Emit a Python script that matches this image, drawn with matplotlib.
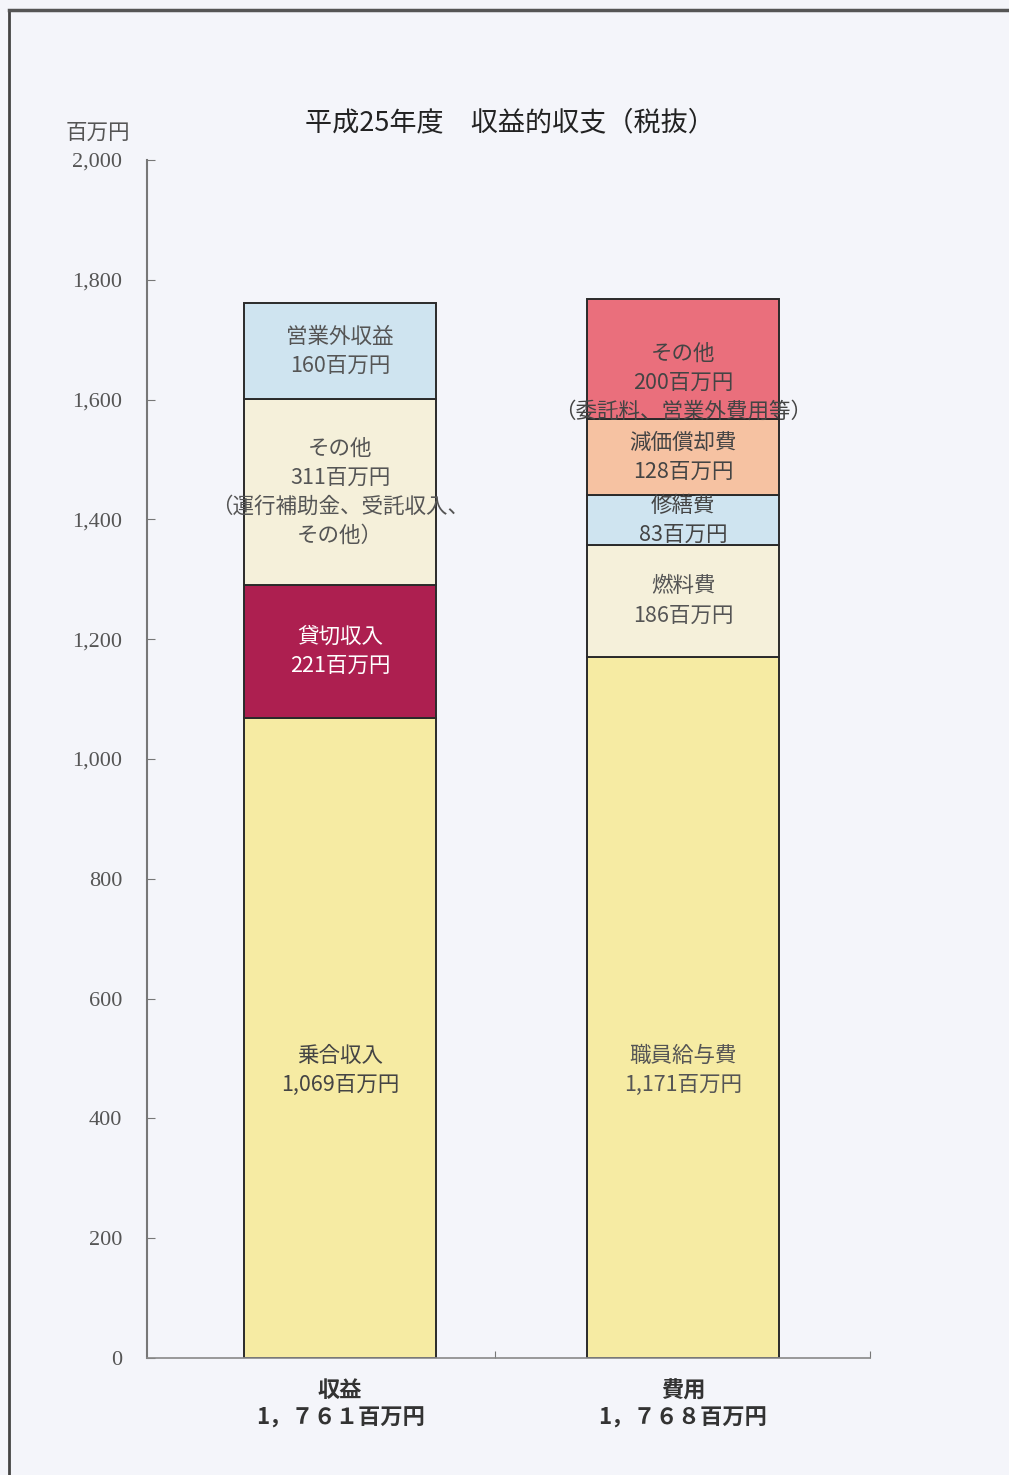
import matplotlib.pyplot as plt
import numpy as np
from matplotlib.lines import Line2D

# 平成25年度 収益的収支（税抜） 単位：百万円
categories = ['収益', '費用']
totals = ['1，７６１百万円', '1，７６８百万円']

income_names = ['乗合収入', '貸切収入', 'その他', '営業外収益']
income_values = [1069, 221, 311, 160]
income_notes = ['', '', '（運行補助金、受託収入、\nその他）', '']

cost_names = ['職員給与費', '燃料費', '修繕費', '減価償却費', 'その他']
cost_values = [1171, 186, 83, 128, 200]
cost_notes = ['', '', '', '', '（委託料、営業外費用等）']

yticks = [0, 200, 400, 600, 800, 1000, 1200, 1400, 1600, 1800, 2000]

income_colors = ['#f6eba3', '#ad1f50', '#f5f0da', '#cfe4f0']
income_text = ['#444444', '#ffffff', '#555555', '#555555']
cost_colors = ['#f6eba3', '#f5f0da', '#cfe4f0', '#f6c2a2', '#ea6f7c']
cost_text = ['#555555', '#555555', '#444444', '#444444', '#444444']

BG = '#f4f5fa'
plt.rcParams['font.family'] = ['Noto Sans CJK JP', 'DejaVu Sans']

fig = plt.figure(figsize=(10.09, 14.75), dpi=100, facecolor=BG)
ax = fig.add_axes([0.1457, 0.0793, 0.7165, 0.8122])
ax.set_facecolor(BG)

x = np.arange(len(categories))
width = 0.56
base_label_y = 480


def draw_stack(xpos, names, values, notes, colors, tcolors):
    bottom = 0
    for i, (n, v, note, c, tc) in enumerate(zip(names, values, notes, colors, tcolors)):
        ax.bar(xpos, v, width, bottom=bottom, color=c, edgecolor='#2a2a2a',
               linewidth=1.4, zorder=2)
        text = f'{n}\n{v:,}百万円'
        if note:
            text += '\n' + note
        ymid = base_label_y if i == 0 else bottom + v / 2
        if note and i == len(values) - 1:
            ymid -= 40
        ax.text(xpos, ymid, text, ha='center', va='center', fontsize=15.5,
                color=tc, linespacing=1.42, zorder=3)
        bottom += v


draw_stack(x[0], income_names, income_values, income_notes,
           income_colors, income_text)
draw_stack(x[1], cost_names, cost_values, cost_notes,
           cost_colors, cost_text)

ax.set_xlim(-0.563, 1.545)
ax.set_ylim(0, 2000)
ax.set_yticks(yticks)
ax.set_yticklabels([f'{v:,}' for v in yticks], family='Liberation Serif',
                   fontsize=16, color='#555555')
ax.tick_params(axis='y', direction='in', length=6, color='#777777', pad=18)
ax.set_xticks([0.452, 1.545])
ax.set_xticklabels([])
ax.tick_params(axis='x', direction='in', length=5, color='#777777')

for side in ['top', 'right']:
    ax.spines[side].set_visible(False)
ax.spines['left'].set_color('#777777')
ax.spines['bottom'].set_color('#888888')
ax.spines['left'].set_linewidth(1.5)
ax.spines['bottom'].set_linewidth(1.2)

# category names and totals under the bars
for xi, cat, tot in zip(x, categories, totals):
    ax.text(xi, -55, cat, ha='center', va='center', fontsize=16,
            fontweight='bold', color='#333333', clip_on=False)
    ax.text(xi, -100, tot, ha='center', va='center', fontsize=16,
            fontweight='bold', color='#333333', clip_on=False)

fig.text(0.505, 0.917, '平成25年度　収益的収支（税抜）', ha='center', va='center',
         fontsize=19.5, color='#222222')
fig.text(0.097, 0.910, '百万円', ha='center', va='center', fontsize=15.5,
         color='#555555')

# outer frame (left and top edges)
fig.add_artist(Line2D([0.009, 0.009], [0.0, 0.9935], transform=fig.transFigure,
                      color='#444444', linewidth=2))
fig.add_artist(Line2D([0.009, 1.0], [0.9935, 0.9935], transform=fig.transFigure,
                      color='#555555', linewidth=2.5))

fig.savefig('out.png', dpi=100, facecolor=BG)
